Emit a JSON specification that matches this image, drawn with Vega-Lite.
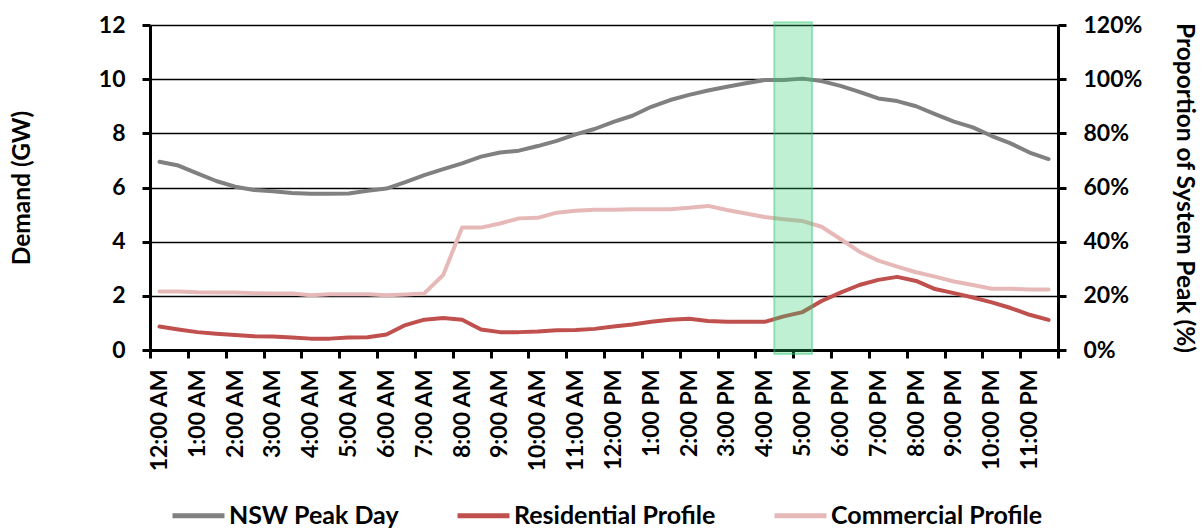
{
  "$schema": "https://vega.github.io/schema/vega-lite/v6.json",
  "autosize": {"type": "none"},
  "padding": {"left": 150, "top": 25, "right": 144, "bottom": 179},
  "width": 908,
  "height": 325,
  "background": "white",
  "config": {
    "view": {"stroke": null},
    "font": "Lato",
    "axis": {
      "labelFont": "Lato",
      "labelFontWeight": "bold",
      "labelFontSize": 23,
      "labelColor": "black",
      "titleFont": "Lato",
      "titleFontWeight": "bold",
      "titleFontSize": 24.5,
      "titleColor": "black",
      "domainColor": "black",
      "domainWidth": 3,
      "tickColor": "black",
      "tickWidth": 3,
      "tickSize": 8,
      "labelFlush": false,
      "labelOverlap": false,
      "labelBound": false
    },
    "legend": {
      "labelFont": "Lato",
      "labelFontWeight": "bold",
      "labelFontSize": 25,
      "labelColor": "black",
      "labelLimit": 400
    }
  },
  "datasets": {
    "nsw": [
      {"hour": 0, "series": "NSW Peak Day", "gw": 6.95},
      {"hour": 0.5, "series": "NSW Peak Day", "gw": 6.81},
      {"hour": 1, "series": "NSW Peak Day", "gw": 6.52},
      {"hour": 1.5, "series": "NSW Peak Day", "gw": 6.24},
      {"hour": 2, "series": "NSW Peak Day", "gw": 6.03},
      {"hour": 2.5, "series": "NSW Peak Day", "gw": 5.91},
      {"hour": 3, "series": "NSW Peak Day", "gw": 5.86},
      {"hour": 3.5, "series": "NSW Peak Day", "gw": 5.8},
      {"hour": 4, "series": "NSW Peak Day", "gw": 5.77},
      {"hour": 4.5, "series": "NSW Peak Day", "gw": 5.77},
      {"hour": 5, "series": "NSW Peak Day", "gw": 5.78},
      {"hour": 5.5, "series": "NSW Peak Day", "gw": 5.88},
      {"hour": 6, "series": "NSW Peak Day", "gw": 5.96},
      {"hour": 6.5, "series": "NSW Peak Day", "gw": 6.2},
      {"hour": 7, "series": "NSW Peak Day", "gw": 6.46},
      {"hour": 7.5, "series": "NSW Peak Day", "gw": 6.68},
      {"hour": 8, "series": "NSW Peak Day", "gw": 6.89},
      {"hour": 8.5, "series": "NSW Peak Day", "gw": 7.14},
      {"hour": 9, "series": "NSW Peak Day", "gw": 7.29},
      {"hour": 9.5, "series": "NSW Peak Day", "gw": 7.36},
      {"hour": 10, "series": "NSW Peak Day", "gw": 7.53},
      {"hour": 10.5, "series": "NSW Peak Day", "gw": 7.72},
      {"hour": 11, "series": "NSW Peak Day", "gw": 7.96},
      {"hour": 11.5, "series": "NSW Peak Day", "gw": 8.16},
      {"hour": 12, "series": "NSW Peak Day", "gw": 8.42},
      {"hour": 12.5, "series": "NSW Peak Day", "gw": 8.65},
      {"hour": 13, "series": "NSW Peak Day", "gw": 8.98},
      {"hour": 13.5, "series": "NSW Peak Day", "gw": 9.23},
      {"hour": 14, "series": "NSW Peak Day", "gw": 9.42},
      {"hour": 14.5, "series": "NSW Peak Day", "gw": 9.58},
      {"hour": 15, "series": "NSW Peak Day", "gw": 9.72},
      {"hour": 15.5, "series": "NSW Peak Day", "gw": 9.85},
      {"hour": 16, "series": "NSW Peak Day", "gw": 9.97},
      {"hour": 16.5, "series": "NSW Peak Day", "gw": 9.97},
      {"hour": 17, "series": "NSW Peak Day", "gw": 10.02},
      {"hour": 17.5, "series": "NSW Peak Day", "gw": 9.93},
      {"hour": 18, "series": "NSW Peak Day", "gw": 9.75},
      {"hour": 18.5, "series": "NSW Peak Day", "gw": 9.53},
      {"hour": 19, "series": "NSW Peak Day", "gw": 9.29},
      {"hour": 19.5, "series": "NSW Peak Day", "gw": 9.19},
      {"hour": 20, "series": "NSW Peak Day", "gw": 9.0},
      {"hour": 20.5, "series": "NSW Peak Day", "gw": 8.71},
      {"hour": 21, "series": "NSW Peak Day", "gw": 8.43},
      {"hour": 21.5, "series": "NSW Peak Day", "gw": 8.22},
      {"hour": 22, "series": "NSW Peak Day", "gw": 7.9},
      {"hour": 22.5, "series": "NSW Peak Day", "gw": 7.63},
      {"hour": 23, "series": "NSW Peak Day", "gw": 7.29},
      {"hour": 23.5, "series": "NSW Peak Day", "gw": 7.05}
    ],
    "residential": [
      {"hour": 0, "series": "Residential Profile", "pct": 8.7},
      {"hour": 0.5, "series": "Residential Profile", "pct": 7.6},
      {"hour": 1, "series": "Residential Profile", "pct": 6.6},
      {"hour": 1.5, "series": "Residential Profile", "pct": 6.0},
      {"hour": 2, "series": "Residential Profile", "pct": 5.5},
      {"hour": 2.5, "series": "Residential Profile", "pct": 5.1},
      {"hour": 3, "series": "Residential Profile", "pct": 5.0},
      {"hour": 3.5, "series": "Residential Profile", "pct": 4.6},
      {"hour": 4, "series": "Residential Profile", "pct": 4.2},
      {"hour": 4.5, "series": "Residential Profile", "pct": 4.2},
      {"hour": 5, "series": "Residential Profile", "pct": 4.6},
      {"hour": 5.5, "series": "Residential Profile", "pct": 4.7},
      {"hour": 6, "series": "Residential Profile", "pct": 5.7},
      {"hour": 6.5, "series": "Residential Profile", "pct": 9.2},
      {"hour": 7, "series": "Residential Profile", "pct": 11.2},
      {"hour": 7.5, "series": "Residential Profile", "pct": 11.8},
      {"hour": 8, "series": "Residential Profile", "pct": 11.2},
      {"hour": 8.5, "series": "Residential Profile", "pct": 7.6},
      {"hour": 9, "series": "Residential Profile", "pct": 6.6},
      {"hour": 9.5, "series": "Residential Profile", "pct": 6.6},
      {"hour": 10, "series": "Residential Profile", "pct": 6.8},
      {"hour": 10.5, "series": "Residential Profile", "pct": 7.3},
      {"hour": 11, "series": "Residential Profile", "pct": 7.4},
      {"hour": 11.5, "series": "Residential Profile", "pct": 7.8},
      {"hour": 12, "series": "Residential Profile", "pct": 8.7},
      {"hour": 12.5, "series": "Residential Profile", "pct": 9.4},
      {"hour": 13, "series": "Residential Profile", "pct": 10.4},
      {"hour": 13.5, "series": "Residential Profile", "pct": 11.2},
      {"hour": 14, "series": "Residential Profile", "pct": 11.5},
      {"hour": 14.5, "series": "Residential Profile", "pct": 10.7},
      {"hour": 15, "series": "Residential Profile", "pct": 10.4},
      {"hour": 15.5, "series": "Residential Profile", "pct": 10.4},
      {"hour": 16, "series": "Residential Profile", "pct": 10.4},
      {"hour": 16.5, "series": "Residential Profile", "pct": 12.4},
      {"hour": 17, "series": "Residential Profile", "pct": 14.0},
      {"hour": 17.5, "series": "Residential Profile", "pct": 18.1},
      {"hour": 18, "series": "Residential Profile", "pct": 21.2},
      {"hour": 18.5, "series": "Residential Profile", "pct": 24.0},
      {"hour": 19, "series": "Residential Profile", "pct": 25.9},
      {"hour": 19.5, "series": "Residential Profile", "pct": 27.0},
      {"hour": 20, "series": "Residential Profile", "pct": 25.5},
      {"hour": 20.5, "series": "Residential Profile", "pct": 22.5},
      {"hour": 21, "series": "Residential Profile", "pct": 21.0},
      {"hour": 21.5, "series": "Residential Profile", "pct": 19.4},
      {"hour": 22, "series": "Residential Profile", "pct": 17.6},
      {"hour": 22.5, "series": "Residential Profile", "pct": 15.5},
      {"hour": 23, "series": "Residential Profile", "pct": 13.0},
      {"hour": 23.5, "series": "Residential Profile", "pct": 11.1}
    ],
    "commercial": [
      {"hour": 0, "series": "Commercial Profile", "pct": 21.6},
      {"hour": 0.5, "series": "Commercial Profile", "pct": 21.6},
      {"hour": 1, "series": "Commercial Profile", "pct": 21.3},
      {"hour": 1.5, "series": "Commercial Profile", "pct": 21.2},
      {"hour": 2, "series": "Commercial Profile", "pct": 21.2},
      {"hour": 2.5, "series": "Commercial Profile", "pct": 21.0},
      {"hour": 3, "series": "Commercial Profile", "pct": 20.9},
      {"hour": 3.5, "series": "Commercial Profile", "pct": 20.9},
      {"hour": 4, "series": "Commercial Profile", "pct": 20.2},
      {"hour": 4.5, "series": "Commercial Profile", "pct": 20.6},
      {"hour": 5, "series": "Commercial Profile", "pct": 20.6},
      {"hour": 5.5, "series": "Commercial Profile", "pct": 20.6},
      {"hour": 6, "series": "Commercial Profile", "pct": 20.2},
      {"hour": 6.5, "series": "Commercial Profile", "pct": 20.5},
      {"hour": 7, "series": "Commercial Profile", "pct": 20.9},
      {"hour": 7.5, "series": "Commercial Profile", "pct": 27.7},
      {"hour": 8, "series": "Commercial Profile", "pct": 45.2},
      {"hour": 8.5, "series": "Commercial Profile", "pct": 45.2},
      {"hour": 9, "series": "Commercial Profile", "pct": 46.7},
      {"hour": 9.5, "series": "Commercial Profile", "pct": 48.6},
      {"hour": 10, "series": "Commercial Profile", "pct": 48.8},
      {"hour": 10.5, "series": "Commercial Profile", "pct": 50.7},
      {"hour": 11, "series": "Commercial Profile", "pct": 51.4},
      {"hour": 11.5, "series": "Commercial Profile", "pct": 51.8},
      {"hour": 12, "series": "Commercial Profile", "pct": 51.8},
      {"hour": 12.5, "series": "Commercial Profile", "pct": 52.0},
      {"hour": 13, "series": "Commercial Profile", "pct": 52.0},
      {"hour": 13.5, "series": "Commercial Profile", "pct": 52.0},
      {"hour": 14, "series": "Commercial Profile", "pct": 52.5},
      {"hour": 14.5, "series": "Commercial Profile", "pct": 53.2},
      {"hour": 15, "series": "Commercial Profile", "pct": 51.7},
      {"hour": 15.5, "series": "Commercial Profile", "pct": 50.4},
      {"hour": 16, "series": "Commercial Profile", "pct": 49.1},
      {"hour": 16.5, "series": "Commercial Profile", "pct": 48.3},
      {"hour": 17, "series": "Commercial Profile", "pct": 47.6},
      {"hour": 17.5, "series": "Commercial Profile", "pct": 45.5},
      {"hour": 18, "series": "Commercial Profile", "pct": 41.0},
      {"hour": 18.5, "series": "Commercial Profile", "pct": 36.3},
      {"hour": 19, "series": "Commercial Profile", "pct": 33.0},
      {"hour": 19.5, "series": "Commercial Profile", "pct": 30.8},
      {"hour": 20, "series": "Commercial Profile", "pct": 28.7},
      {"hour": 20.5, "series": "Commercial Profile", "pct": 27.1},
      {"hour": 21, "series": "Commercial Profile", "pct": 25.3},
      {"hour": 21.5, "series": "Commercial Profile", "pct": 24.0},
      {"hour": 22, "series": "Commercial Profile", "pct": 22.6},
      {"hour": 22.5, "series": "Commercial Profile", "pct": 22.6},
      {"hour": 23, "series": "Commercial Profile", "pct": 22.3},
      {"hour": 23.5, "series": "Commercial Profile", "pct": 22.3}
    ],
    "peak_window": [
      {"from": 16.25, "to": 17.25, "top": 12.1, "bottom": -0.15}
    ]
  },
  "resolve": {
    "scale": {"y": "independent"},
    "axis": {"y": "independent", "x": "independent"}
  },
  "layer": [
    {
      "data": {"name": "nsw"},
      "mark": {"type": "line", "strokeWidth": 4, "strokeCap": "round", "strokeJoin": "round"},
      "encoding": {
        "x": {
          "field": "hour",
          "type": "quantitative",
          "scale": {"domain": [-0.25, 23.75], "nice": false, "zero": false},
          "axis": {
            "orient": "bottom",
            "values": [-0.25, 0.75, 1.75, 2.75, 3.75, 4.75, 5.75, 6.75, 7.75, 8.75, 9.75, 10.75, 11.75, 12.75, 13.75, 14.75, 15.75, 16.75, 17.75, 18.75, 19.75, 20.75, 21.75, 22.75, 23.75],
            "labels": false,
            "grid": false,
            "title": null,
            "domain": true
          }
        },
        "y": {
          "field": "gw",
          "type": "quantitative",
          "scale": {"domain": [0, 12], "nice": false},
          "axis": {
            "orient": "left",
            "values": [0, 2, 4, 6, 8, 10, 12],
            "grid": true,
            "gridColor": "black",
            "gridWidth": 1.5,
            "labelPadding": 17,
            "title": "Demand (GW)",
            "titleAngle": -90,
            "titleX": -128,
            "titleY": 162.5,
            "titleAlign": "center",
            "titleBaseline": "middle"
          }
        },
        "color": {
          "field": "series",
          "type": "nominal",
          "scale": {
            "domain": ["NSW Peak Day", "Residential Profile", "Commercial Profile"],
            "range": ["#808080", "#c0504d", "#e6b9b8"]
          },
          "legend": {
            "title": null,
            "orient": "none",
            "direction": "horizontal",
            "legendX": 20,
            "legendY": 462,
            "symbolType": "stroke",
            "symbolSize": 2700,
            "symbolStrokeWidth": 5,
            "labelOffset": 2,
            "columnPadding": 48,
            "padding": 0
          }
        }
      }
    },
    {
      "resolve": {"axis": {"x": "independent"}},
      "layer": [
        {
          "data": {"name": "residential"},
          "mark": {"type": "line", "strokeWidth": 4, "strokeCap": "round", "strokeJoin": "round"},
          "encoding": {
            "x": {"field": "hour", "type": "quantitative", "axis": null},
            "y": {"field": "pct", "type": "quantitative"},
            "color": {"field": "series", "type": "nominal"}
          }
        },
        {
          "data": {"name": "commercial"},
          "mark": {"type": "line", "strokeWidth": 4, "strokeCap": "round", "strokeJoin": "round"},
          "encoding": {
            "x": {
              "field": "hour",
              "type": "quantitative",
              "axis": {
                "orient": "bottom",
                "values": [0, 1, 2, 3, 4, 5, 6, 7, 8, 9, 10, 11, 12, 13, 14, 15, 16, 17, 18, 19, 20, 21, 22, 23],
                "labelExpr": "(datum.value % 12 == 0 ? 12 : datum.value % 12) + ':00 ' + (datum.value < 12 ? 'AM' : 'PM')",
                "labelAngle": -90,
                "labelAlign": "right",
                "labelBaseline": "middle",
                "labelPadding": 19,
                "ticks": false,
                "tickSize": 0,
                "domain": false,
                "grid": false,
                "title": null
              }
            },
            "y": {
              "field": "pct",
              "type": "quantitative",
              "scale": {"domain": [0, 120], "nice": false},
              "axis": {
                "orient": "right",
                "values": [0, 20, 40, 60, 80, 100, 120],
                "labelExpr": "datum.value + '%'",
                "grid": false,
                "labelPadding": 17,
                "title": "Proportion of System Peak (%)",
                "titleAngle": 90,
                "titleX": 125,
                "titleY": 162.5,
                "titleAlign": "center",
                "titleBaseline": "middle"
              }
            },
            "color": {"field": "series", "type": "nominal"}
          }
        }
      ]
    },
    {
      "data": {"name": "peak_window"},
      "mark": {"type": "rect", "fill": "#2ecc71", "fillOpacity": 0.3, "stroke": "#2ecc71", "strokeOpacity": 0.45, "strokeWidth": 2},
      "encoding": {
        "x": {"field": "from", "type": "quantitative", "axis": null},
        "x2": {"field": "to"},
        "y": {"field": "top", "type": "quantitative", "scale": {"domain": [0, 12], "nice": false}, "axis": null},
        "y2": {"field": "bottom"}
      }
    }
  ]
}
